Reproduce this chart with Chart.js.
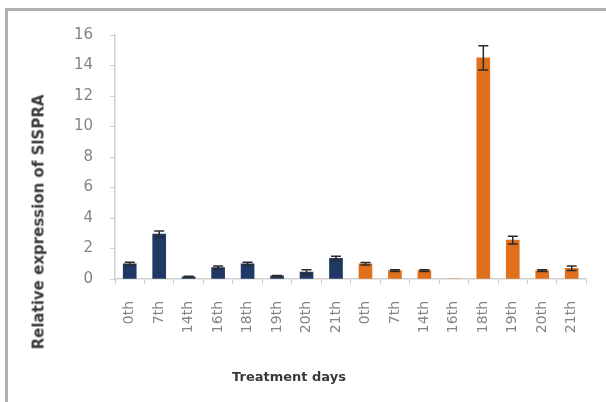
<!DOCTYPE html>
<html>
<head>
<meta charset="utf-8">
<script src="https://cdn.jsdelivr.net/npm/chart.js@4.4.1/dist/chart.umd.min.js"></script>
<style>
  html, body { margin: 0; padding: 0; background: #fff; overflow: hidden; }
  #wrap { position: relative; width: 606px; height: 402px; overflow: hidden; }
  #lineTop { position: absolute; left: 5px; top: 8px; width: 601px; height: 3px; background: #b0b0b0; }
  #lineLeft { position: absolute; left: 5px; top: 8px; width: 3px; height: 394px; background: #b0b0b0; }
  #chart { position: absolute; left: 0; top: 0; }
  .axis-title { position: absolute; font-family: 'DejaVu Sans', sans-serif; font-weight: bold; color: #3a3a3a; white-space: nowrap; line-height: 1; }
  #yTitle { left: 39px; top: 222px; font-size: 15px; transform: translate(-50%, -50%) rotate(-90deg); }
  #xTitle { left: 289px; top: 376px; font-size: 13px; transform: translate(-50%, -50%); }
</style>
</head>
<body>
<div id="wrap">
  <div id="lineTop"></div>
  <div id="lineLeft"></div>
  <canvas id="chart" width="606" height="402"></canvas>
  <div class="axis-title" id="yTitle"></div>
  <div class="axis-title" id="xTitle"></div>
</div>
<script>
const days = ['0th', '7th', '14th', '16th', '18th', '19th', '20th', '21th'];
const controlValues = [1.0, 2.95, 0.15, 0.75, 1.0, 0.2, 0.45, 1.35];
const controlErr = [0.1, 0.2, 0.03, 0.1, 0.1, 0.03, 0.15, 0.15];
const treatedValues = [1.0, 0.55, 0.55, 0, 14.5, 2.55, 0.55, 0.7];
const treatedErr = [0.08, 0.06, 0.06, 0, 0.8, 0.25, 0.06, 0.15];
const yTicks = [0, 2, 4, 6, 8, 10, 12, 14, 16];
const xTitle = 'Treatment days';
const yTitle = 'Relative expression of SlSPRA';

document.getElementById('xTitle').textContent = xTitle;
document.getElementById('yTitle').textContent = yTitle;

const labels = days.concat(days);
const blank = days.map(() => null);

// error bars drawn on top of the bars, positions come from the chart scales
const errorBars = {
  id: 'errorBars',
  afterDatasetsDraw(chart) {
    const ctx = chart.ctx;
    const y = chart.scales.y;
    chart.data.datasets.forEach((ds, i) => {
      const meta = chart.getDatasetMeta(i);
      meta.data.forEach((bar, j) => {
        const v = ds.data[j];
        const e = ds.errors[j];
        if (v == null || !e) return;
        const top = y.getPixelForValue(v + e);
        const bot = y.getPixelForValue(v - e);
        ctx.save();
        ctx.strokeStyle = '#2a2a2a';
        ctx.lineWidth = 1.5;
        ctx.beginPath();
        ctx.moveTo(bar.x, top); ctx.lineTo(bar.x, bot);
        ctx.moveTo(bar.x - 5, top); ctx.lineTo(bar.x + 5, top);
        ctx.moveTo(bar.x - 5, bot); ctx.lineTo(bar.x + 5, bot);
        ctx.stroke();
        ctx.restore();
      });
    });
  }
};

new Chart(document.getElementById('chart'), {
  type: 'bar',
  data: {
    labels,
    datasets: [
      { label: 'Control', data: controlValues.concat(blank), errors: controlErr.concat(blank), backgroundColor: '#1f3864', barThickness: 13, grouped: false },
      { label: 'Treated', data: blank.concat(treatedValues), errors: blank.concat(treatedErr), backgroundColor: '#e0701c', barThickness: 13, grouped: false }
    ]
  },
  options: {
    responsive: false,
    animation: false,
    layout: { padding: { left: 30, top: 35, right: 16, bottom: 18 } },
    plugins: { legend: { display: false }, tooltip: { enabled: false } },
    scales: {
      x: {
        afterFit: s => { s.height = 105; },
        grid: { drawOnChartArea: false, offset: true, tickLength: 5, color: '#d0d0d0' },
        border: { color: '#d0d0d0', width: 1.5 },
        ticks: { minRotation: 90, maxRotation: 90, autoSkip: false, padding: 17, color: '#858585', font: { family: 'DejaVu Sans', size: 14 } }
      },
      y: {
        min: 0, max: 16,
        afterFit: s => { s.width = 85; },
        afterBuildTicks: s => { s.ticks = yTicks.map(v => ({ value: v })); },
        grid: { drawOnChartArea: false, tickLength: 5, color: '#d0d0d0' },
        border: { color: '#d0d0d0', width: 1.5 },
        ticks: { padding: 17, color: '#858585', font: { family: 'DejaVu Sans', size: 15 } }
      }
    }
  },
  plugins: [errorBars]
});
</script>
</body>
</html>
